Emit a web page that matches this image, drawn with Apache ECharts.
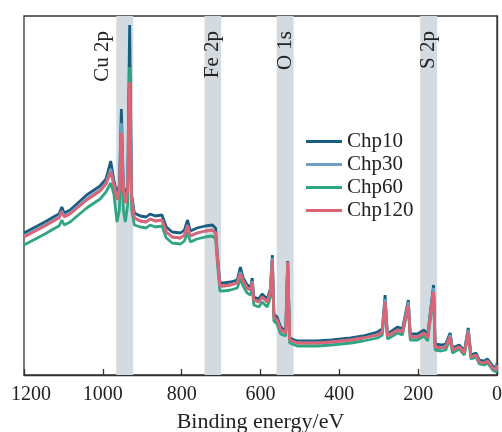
<!DOCTYPE html>
<html>
<head>
<meta charset="utf-8">
<script src="https://cdn.jsdelivr.net/npm/echarts@6/dist/echarts.min.js"></script>
<style>
  html, body { margin: 0; padding: 0; background: #fff; }
  #chart { width: 502px; height: 432px; }
</style>
</head>
<body>
<div id="chart"></div>
<script>
// binding energy (eV), shared by every sample
const energy = [1200, 1176, 1147, 1121, 1111, 1104, 1098, 1083, 1041, 1007, 992, 980, 972, 964, 958, 953, 948, 943, 937, 932,
  927, 920, 905, 890, 880, 867, 850, 839, 824, 803, 793, 785, 778, 761, 740, 722, 714, 709, 703, 694,
  676, 659, 651, 644, 634, 625, 621, 617, 604, 596, 583, 575, 570, 566, 558, 549, 536, 531, 526, 507,
  456, 420, 371, 340, 303, 291, 284, 278, 252, 240, 225, 220, 202, 185, 176, 161, 157, 142, 130, 119,
  113, 96, 83, 73, 66, 53, 45, 32, 24, 11, 2, 0];

// intensities (a.u.)
const chp10 = [142, 147, 153, 159, 161, 168, 162, 165, 180, 189, 196, 214, 195, 180, 190, 266, 190, 177, 190, 350,
  180, 162, 159, 158, 161, 159, 160, 148, 143, 142, 145, 155, 144, 147, 149, 150, 147, 119, 92, 92,
  93, 95, 108, 97, 90, 88, 97, 78, 76, 81, 76, 86, 120, 61, 58, 48, 44, 114, 37, 34,
  34, 35, 37, 39, 43, 46, 80, 41, 48, 46, 75, 41, 41, 45, 40, 90, 31, 30, 31, 42,
  27, 30, 24, 47, 20, 22, 15, 14, 16, 9, 7, 12];
const chp30 = [139, 144, 150, 156, 158, 164, 159, 162, 176, 185, 192, 206, 191, 176, 186, 252, 186, 173, 186, 300,
  176, 157, 154, 153, 156, 154, 155, 143, 138, 137, 140, 150, 139, 142, 144, 145, 142, 115, 89, 89,
  90, 92, 103, 94, 87, 85, 94, 75, 73, 78, 73, 83, 117, 58, 55, 45, 42, 113, 35, 32,
  32, 33, 35, 37, 40, 43, 76, 39, 45, 43, 73, 38, 38, 42, 37, 87, 28, 27, 28, 40,
  25, 28, 22, 45, 18, 20, 13, 12, 14, 7, 5, 10];
const chp60 = [130, 135, 141, 147, 149, 155, 150, 153, 167, 176, 183, 192, 181, 153, 165, 225, 165, 153, 170, 308,
  165, 150, 148, 147, 150, 148, 149, 137, 132, 131, 134, 143, 133, 136, 138, 139, 136, 110, 84, 84,
  85, 87, 96, 89, 82, 80, 87, 70, 68, 73, 68, 78, 112, 54, 51, 41, 39, 112, 32, 29,
  29, 30, 32, 34, 37, 40, 71, 36, 42, 40, 68, 35, 35, 39, 34, 81, 25, 24, 25, 36,
  22, 26, 20, 41, 16, 18, 11, 10, 12, 5, 3, 8];
const chp120 = [138, 143, 149, 155, 157, 163, 158, 161, 175, 184, 191, 203, 190, 175, 185, 242, 185, 172, 185, 293,
  175, 157, 154, 153, 156, 154, 155, 143, 138, 137, 140, 149, 139, 142, 144, 145, 142, 115, 89, 89,
  90, 92, 101, 94, 87, 85, 92, 75, 73, 78, 73, 83, 115, 58, 55, 45, 42, 113, 35, 32,
  32, 33, 35, 37, 40, 43, 73, 39, 45, 43, 70, 38, 38, 42, 37, 83, 28, 27, 28, 38,
  25, 28, 22, 43, 18, 20, 13, 12, 14, 7, 5, 10];

const seriesNames = ['Chp10', 'Chp30', 'Chp60', 'Chp120'];
const seriesColors = ['#1b5d7f', '#6e9ec2', '#2fa583', '#db6477'];

// element bands: [label, high BE, low BE]
const bands = [['Cu 2p', 966, 923], ['Fe 2p', 742, 700], ['O 1s', 559, 516], ['S 2p', 195, 152]];
const xTicks = [1200, 1000, 800, 600, 400, 200, 0];

const font = 'Liberation Serif, Times New Roman, serif';
const chart = echarts.init(document.getElementById('chart'));

const allData = [chp10, chp30, chp60, chp120];

const series = seriesNames.map((name, i) => ({
  name: name,
  type: 'line',
  data: energy.map((e, k) => [e, allData[i][k]]),
  showSymbol: false,
  lineStyle: { width: 2.8, color: seriesColors[i] },
  itemStyle: { color: seriesColors[i] },
  z: 3 + i
}));

// gray bands + rotated labels on the first series
series[0].markArea = {
  silent: true,
  itemStyle: { color: '#d4dbe0' },
  label: {
    show: true,
    position: 'insideTop',
    rotate: 90,
    align: 'right',
    verticalAlign: 'middle',
    distance: 15,
    fontFamily: font,
    fontSize: 21,
    color: '#222'
  },
  // offset is in the rotated frame: [0, -22] moves the Cu label left
  data: bands.map((b, i) => [
    { name: b[0], xAxis: b[1], label: i === 0 ? { offset: [0, -22] } : {} },
    { xAxis: b[2] }
  ])
};

chart.setOption({
  animation: false,
  backgroundColor: '#fff',
  grid: {
    left: 24, right: 5, top: 16, bottom: 57,
    outerBoundsMode: 'none',
    show: true, borderColor: '#333', borderWidth: 1.3, backgroundColor: 'transparent'
  },
  legend: {
    orient: 'vertical',
    left: 301,
    top: 126,
    icon: 'rect',
    itemWidth: 36,
    itemHeight: 3,
    itemGap: 2,
    data: seriesNames,
    textStyle: { fontFamily: font, fontSize: 21, color: '#222' }
  },
  xAxis: {
    type: 'value',
    inverse: true,
    min: 0,
    max: 1200,
    interval: 200,
    name: 'Binding energy/eV',
    nameLocation: 'middle',
    nameGap: 36,
    nameTextStyle: { fontFamily: font, fontSize: 22, color: '#222' },
    axisLine: { lineStyle: { color: '#333', width: 1.3 } },
    axisTick: { inside: true, length: 6, lineStyle: { color: '#333', width: 1.3 } },
    axisLabel: {
      fontFamily: font, fontSize: 20, color: '#222', margin: 10,
      formatter: v => v === 1200 ? '{first|1200}' : (xTicks.includes(v) ? String(v) : ''),
      rich: {
        first: { fontFamily: font, fontSize: 20, color: '#222', padding: [0, 0, 0, 14] }
      }
    },
    splitLine: { show: false }
  },
  yAxis: {
    type: 'value',
    min: 0,
    max: 359,
    axisLine: { show: true, lineStyle: { color: '#333', width: 1.3 } },
    axisTick: { show: false },
    axisLabel: { show: false },
    splitLine: { show: false }
  },
  series: series
});
</script>
</body>
</html>
